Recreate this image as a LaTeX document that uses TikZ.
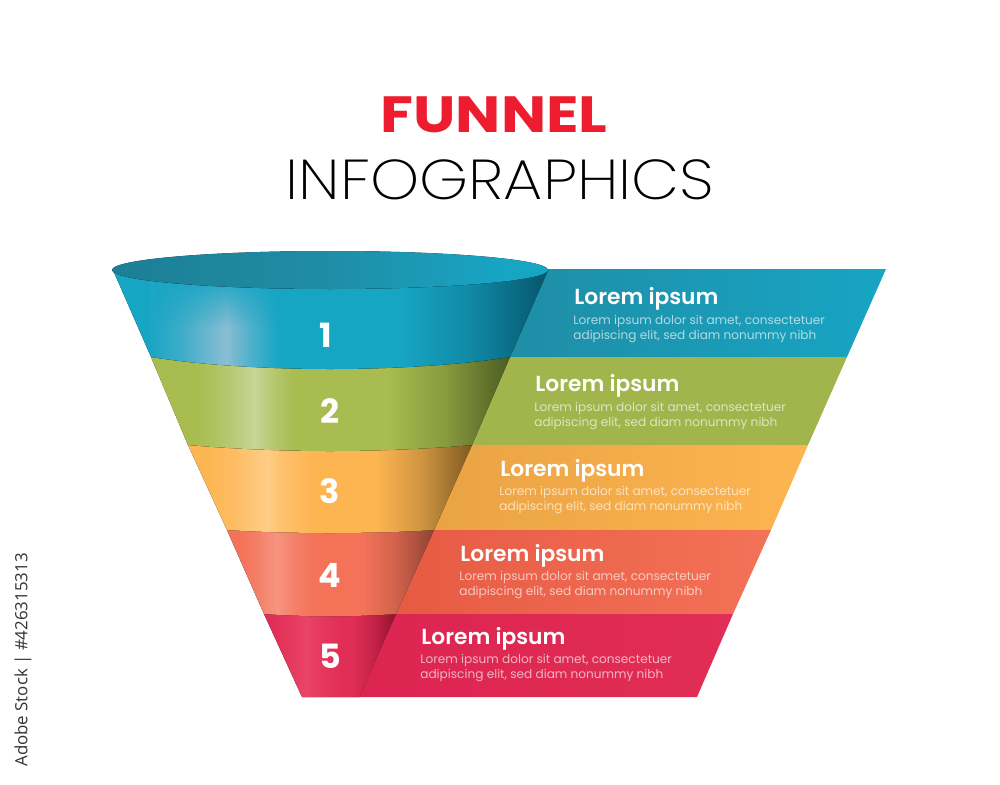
\documentclass[tikz,border=0pt]{standalone}
\usepackage{fontspec}
\setmainfont{Poppins}
\newfontfamily\lightfont{Poppins ExtraLight}
\newfontfamily\headfont{Poppins SemiBold}
\newfontfamily\openfont{Open Sans}
\usetikzlibrary{positioning,fadings}
% colours of the five levels
\definecolor{blueBase}{HTML}{17A5C4}
\definecolor{blueLight}{HTML}{8ABDD3}
\definecolor{blueDark}{HTML}{05566C}
\definecolor{blueShade}{HTML}{1F8DA6}
\definecolor{greenBase}{HTML}{A8BC4F}
\definecolor{greenLight}{HTML}{C9D596}
\definecolor{greenDark}{HTML}{4C5C20}
\definecolor{orangeBase}{HTML}{FDB552}
\definecolor{orangeLight}{HTML}{FFCC85}
\definecolor{orangeDark}{HTML}{7E5A22}
\definecolor{orangeShade}{HTML}{EAA343}
\definecolor{coralBase}{HTML}{F37258}
\definecolor{coralLight}{HTML}{F79480}
\definecolor{coralDark}{HTML}{8E4234}
\definecolor{coralShade}{HTML}{E75A43}
\definecolor{redBase}{HTML}{E12E56}
\definecolor{redLight}{HTML}{EA4468}
\definecolor{redDark}{HTML}{96102F}
\definecolor{redShade}{HTML}{DC2450}
\definecolor{titleRed}{HTML}{ED1C2E}
% shading of one level: 25bp is the left end, 75bp the right end
\newcommand{\bandShading}[6]{%
	\pgfdeclarehorizontalshading{#1Band}{100bp}{
		color(0bp)=(#1Base); color(#2bp)=(#1Base);
		color(#3bp)=(#1Light!35!#1Base); color(#4bp)=(#1Light);
		color(#5bp)=(#1Light!45!#1Base); color(#6bp)=(#1Base);
		color(58bp)=(#1Base); color(66bp)=(#1Dark!35!#1Base);
		color(75bp)=(#1Dark); color(100bp)=(#1Dark)}}
\bandShading{blue}{29}{33}{38}{41}{44}
\bandShading{green}{31}{35}{39.5}{42}{45}
\bandShading{orange}{28}{33}{39}{42}{47}
\bandShading{coral}{28}{32}{37}{41}{46}
\bandShading{red}{28}{33}{41}{47}{54}
\pgfdeclarehorizontalshading{mouthTop}{100bp}{
	color(0bp)=(blueShade!90!black); color(25bp)=(blueShade!90!black);
	color(50bp)=(blueShade); color(70bp)=(blueBase); color(100bp)=(blueBase)}
\tikzset{
	panelText/.style={text=white, anchor=west, inner sep=0pt},
	headText/.style={panelText, font=\fontsize{12.4}{13}\selectfont\headfont},
	bodyText/.style={panelText, text opacity=0.65, align=left, font=\fontsize{6.9}{8.4}\selectfont},
	numText/.style={text=white, inner sep=0pt, font=\fontsize{19}{20}\selectfont\bfseries}
}

\begin{document}
\begin{tikzpicture}[x=0.02cm,y=-0.02cm]
	\useasboundingbox (0,0) rectangle (1000,784);
	% title
	\node[text=titleRed, inner sep=0pt, xscale=1.18, font=\fontsize{29}{30}\selectfont\bfseries] (funnel) at (494,115) {FUNNEL};
	\node[inner sep=0pt, xscale=1.11, font=\fontsize{32}{34}\selectfont\lightfont] (infographics) at (500,180) {INFOGRAPHICS};
	% panels on the right
	\shade[left color=blueShade, middle color=blueBase, right color=blueBase] (548,269) -- (886,269) -- (847,357) -- (510,357) -- cycle;
	\fill[greenBase!96!black] (510,357) -- (847,357) -- (808,445) -- (472,445) -- cycle;
	\shade[left color=orangeShade, right color=orangeBase] (472,445) -- (808,445) -- (771,530) -- (434,530) -- cycle;
	\shade[left color=coralShade, right color=coralBase] (434,530) -- (771,530) -- (733,614) -- (396,614) -- cycle;
	\shade[left color=redShade, right color=redBase] (396,614) -- (733,614) -- (697,697) -- (359,697) -- cycle;
	% the funnel, from the bottom up
	\fill[shading=redBand] (264,614) -- (396,614) -- (359,697) -- (302,697) -- cycle;
	\fill[shading=coralBand] (227,530) -- (434,530) -- (396,614) .. controls (350,617) and (310,617) .. (264,614) -- cycle;
	\fill[shading=orangeBand] (188,445) -- (472,445) -- (434,530) .. controls (370,534) and (290,534) .. (227,530) -- cycle;
	\fill[shading=greenBand] (151,357) -- (510,357) -- (472,445) .. controls (380,453) and (280,453) .. (188,445) -- cycle;
	\fill[shading=blueBand] (113,270) -- (548,270) -- (510,357) .. controls (410,373) and (250,373) .. (151,357) -- cycle;
	% the highlight of the top level fades out upwards
	\fill[blueBase, path fading=south] (155,275) rectangle (290,328);
	\fill[shading=mouthTop] (330,270) ellipse [x radius=218, y radius=19];
	% numbers
	\node[numText] (num1) at (326,335) {1};
	\node[numText] (num2) at (330,411) {2};
	\node[numText] (num3) at (330,491) {3};
	\node[numText] (num4) at (330,575) {4};
	\node[numText] (num5) at (330,656) {5};
	% panel texts
	\node[headText] (head1) at (574,299) {Lorem ipsum};
	\node[bodyText] (body1) at (573,329) {Lorem ipsum dolor sit amet, consectetuer\\adipiscing elit, sed diam nonummy nibh};
	\node[headText] (head2) at (535,386) {Lorem ipsum};
	\node[bodyText] (body2) at (534,416) {Lorem ipsum dolor sit amet, consectetuer\\adipiscing elit, sed diam nonummy nibh};
	\node[headText] (head3) at (500,471) {Lorem ipsum};
	\node[bodyText] (body3) at (499,500) {Lorem ipsum dolor sit amet, consectetuer\\adipiscing elit, sed diam nonummy nibh};
	\node[headText] (head4) at (460,556) {Lorem ipsum};
	\node[bodyText] (body4) at (459,585) {Lorem ipsum dolor sit amet, consectetuer\\adipiscing elit, sed diam nonummy nibh};
	\node[headText] (head5) at (421,639) {Lorem ipsum};
	\node[bodyText] (body5) at (420,668) {Lorem ipsum dolor sit amet, consectetuer\\adipiscing elit, sed diam nonummy nibh};
	% stock number on the left edge
	\node[rotate=90, anchor=west, inner sep=0pt, text=black!80, font=\fontsize{9.6}{10}\selectfont\openfont] (stockNo) at (23,767) {Adobe Stock | \#426315313};
\end{tikzpicture}
\end{document}
